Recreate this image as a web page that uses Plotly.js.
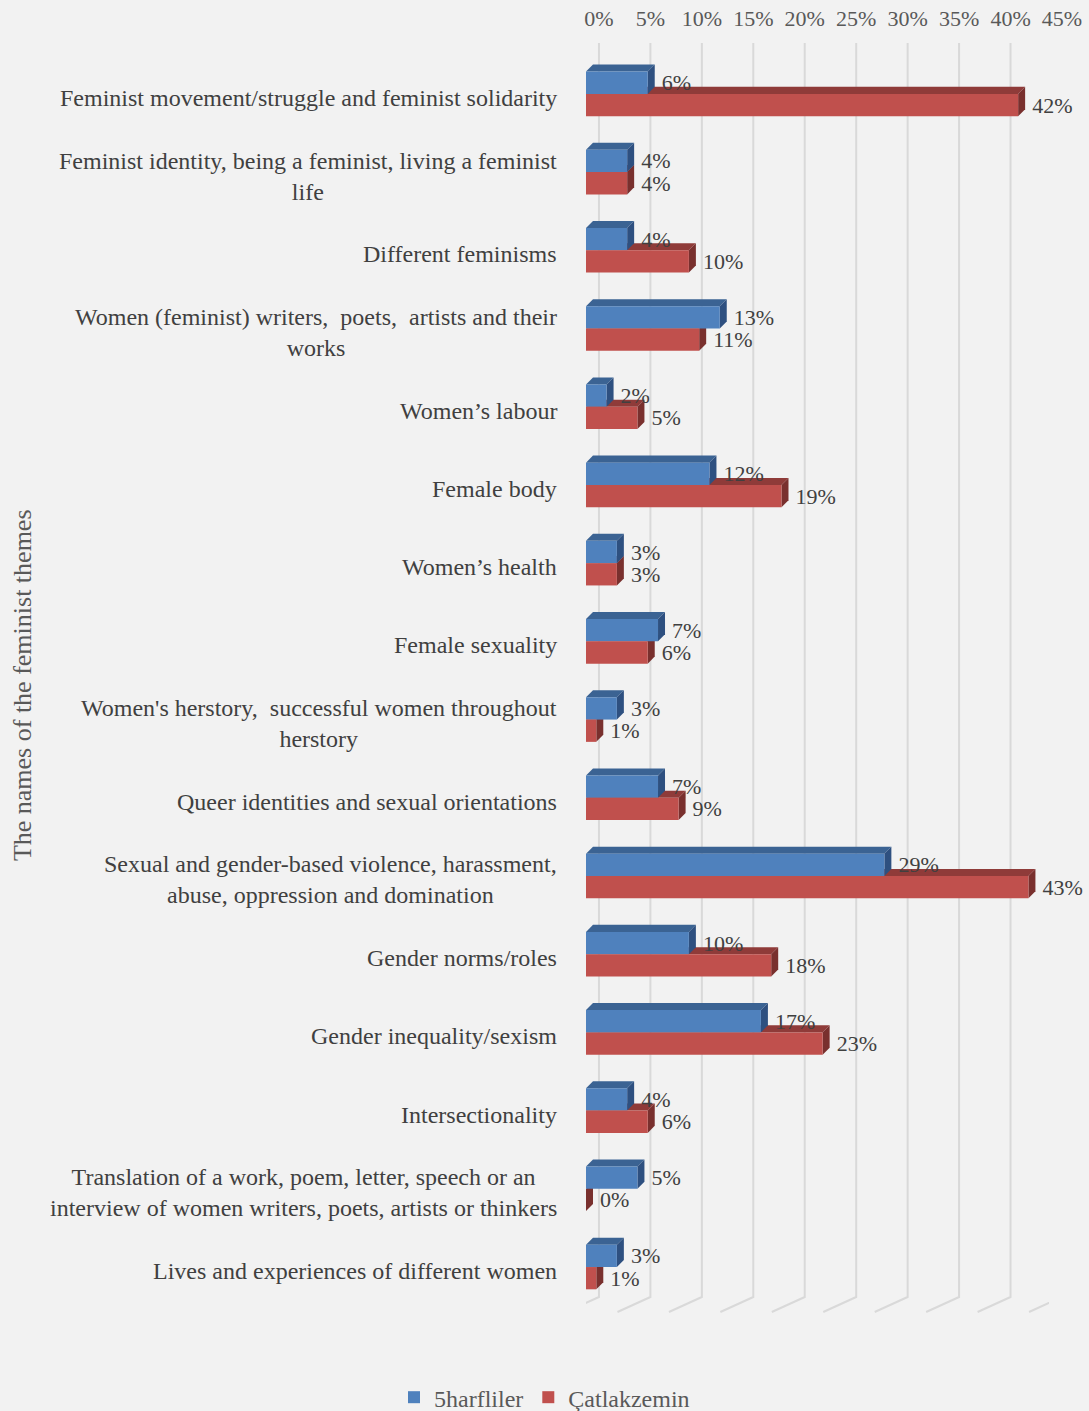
<!DOCTYPE html>
<html>
<head>
<meta charset="utf-8">
<script src="https://cdn.plot.ly/plotly-3.0.1.min.js"></script>
<style>html,body{margin:0;padding:0;background:#F2F2F2;}#chart{width:1089px;height:1411px;}</style>
</head>
<body>
<div id="chart"></div>
<script>
const categories = [
  "Feminist movement/struggle and feminist solidarity",
  "Feminist identity, being a feminist, living a feminist<br>life",
  "Different feminisms",
  "Women (feminist) writers,\u00a0 poets,\u00a0 artists and their<br>works",
  "Women\u2019s labour",
  "Female body",
  "Women\u2019s health",
  "Female sexuality",
  "Women's herstory,\u00a0 successful women throughout<br>herstory",
  "Queer identities and sexual orientations",
  "Sexual and gender-based violence, harassment,<br>abuse, oppression and domination",
  "Gender norms/roles",
  "Gender inequality/sexism",
  "Intersectionality",
  "Translation of a work, poem, letter, speech or an<br>interview of women writers, poets, artists or thinkers",
  "Lives and experiences of different women"
];
const harfliler = [6, 4, 4, 13, 2, 12, 3, 7, 3, 7, 29, 10, 17, 4, 5, 3];
const catlakzemin = [42, 4, 10, 11, 5, 19, 3, 6, 1, 9, 43, 18, 23, 6, 0, 1];
const seriesNames = ["5harfliler", "\u00c7atlakzemin"];
const xTickVals = [0, 5, 10, 15, 20, 25, 30, 35, 40, 45];
const xTickText = ["0%", "5%", "10%", "15%", "20%", "25%", "30%", "35%", "40%", "45%"];
const yAxisTitle = "The names of the feminist themes";

const FONT = "Liberation Serif, Times New Roman, serif";
const idx = categories.map((c, i) => i);
const BARGAP = 0.43;
const W = (1 - BARGAP) / 2;
const DX = 0.68, DY = 0.09;   // 3D depth offsets in data units
const GRID_DX = 1.26, FLOOR_DX = -1.94;

const colors = {
  blue: {front: "#4F81BD", top: "#3B6393", side: "#2E5080"},
  red: {front: "#C0504D", top: "#8F3B39", side: "#79302E"}
};

function bar(name, vals, col) {
  return {
    type: "bar", orientation: "h", name: name,
    x: vals, y: idx,
    text: vals.map(v => v + "%"),
    marker: {color: col.front, line: {width: 0}},
    texttemplate: "\u00a0\u00a0%{text}",
    textposition: "outside",
    constraintext: "none",
    cliponaxis: false,
    textfont: {family: FONT, size: 22, color: "#404040"},
    hoverinfo: "skip"
  };
}

const data = [bar(seriesNames[0], harfliler, colors.blue), bar(seriesNames[1], catlakzemin, colors.red)];

const shapes = [];
// gridlines (back wall + floor)
xTickVals.forEach(t => {
  shapes.push({
    type: "path", xref: "x", yref: "paper", layer: "below",
    path: `M ${t + GRID_DX},1 L ${t + GRID_DX},0.0118 L ${t + FLOOR_DX},0`,
    line: {color: "#D9D9D9", width: 2}
  });
});
function faces(vals, col, topOffset) {
  vals.forEach((v, i) => {
    const yt = i + topOffset, yb = yt + W;
    shapes.push({type: "path", xref: "x", yref: "y", layer: "between",
      path: `M 0,${yt} L ${v},${yt} L ${v + DX},${yt - DY} L ${DX},${yt - DY} Z`,
      fillcolor: col.top, line: {width: 0}});
    shapes.push({type: "path", xref: "x", yref: "y", layer: "between",
      path: `M ${v},${yt} L ${v + DX},${yt - DY} L ${v + DX},${yb - DY} L ${v},${yb} Z`,
      fillcolor: col.side, line: {width: 0}});
  });
}
faces(catlakzemin, colors.red, 0);
faces(harfliler, colors.blue, -W);

const annotations = categories.map((c, i) => ({
  text: c, xref: "paper", yref: "y", x: 0, y: i, xanchor: "right", yanchor: "middle",
  xshift: -27, yshift: -4, align: "center", showarrow: false,
  font: {family: FONT, size: 24, color: "#404040"}
}));
annotations.push({
  text: yAxisTitle, xref: "paper", yref: "paper", x: 0, y: 0.494, xshift: -564,
  xanchor: "center", yanchor: "middle", textangle: -90, showarrow: false,
  font: {family: FONT, size: 26, color: "#595959"}
});

const layout = {
  width: 1089, height: 1411,
  paper_bgcolor: "#F2F2F2", plot_bgcolor: "#F2F2F2",
  margin: {l: 586, r: 39.5, t: 43, b: 99, pad: 0},
  barmode: "group", bargap: BARGAP, bargroupgap: 0,
  showlegend: true,
  legend: {orientation: "h", xref: "container", x: 0.5, xanchor: "center", yref: "container", y: 0.0095, yanchor: "middle",
    font: {family: FONT, size: 24, color: "#595959"}, bgcolor: "rgba(0,0,0,0)", itemwidth: 30},
  xaxis: {side: "top", range: [0, 45], tickvals: xTickVals, ticktext: xTickText,
    showgrid: false, zeroline: false, showline: false, ticks: "", ticklabelshift: 13, ticklabelstandoff: 12,
    tickfont: {family: FONT, size: 22, color: "#595959"}, fixedrange: true},
  yaxis: {range: [15.575, -0.651], showticklabels: false, showgrid: false, zeroline: false,
    showline: false, ticks: "", fixedrange: true},
  shapes: shapes,
  annotations: annotations,
  font: {family: FONT}
};

Plotly.newPlot("chart", data, layout, {displayModeBar: false, staticPlot: true});
</script>
</body>
</html>
